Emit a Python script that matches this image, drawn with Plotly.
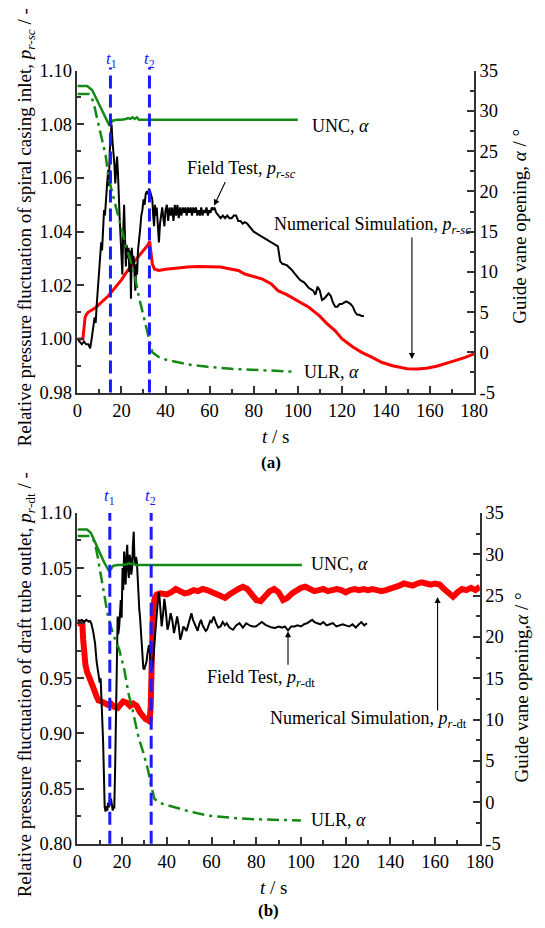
import plotly.graph_objects as go

W, H = 545, 928
FONT = "Liberation Serif, Times New Roman, Times, serif"

# ---------------- Panel (a): spiral casing inlet ----------------
a_field_t = [0, 1, 2, 3, 4, 5, 5.8, 6.3, 6.8, 7.3, 7.8, 8.3, 8.8, 9.3, 9.8, 10.3, 10.8, 11.2, 11.6, 12.1,
             12.5, 13, 13.5, 14, 14.3, 14.7, 15.1, 15.5, 15.9, 16.3, 16.8, 17.2, 17.6, 18, 18.4, 18.8, 19.2,
             19.6, 20, 20.4, 20.8, 21.2, 21.6, 22, 22.4, 22.8, 23.2, 23.6, 24.0, 24.3, 24.7, 25.1, 25.5, 25.9,
             26.3, 26.7, 27.1, 27.5, 28, 28.5, 29, 29.5, 30, 30.5, 31, 31.5, 32, 32.5, 33, 33.5, 34, 34.4,
             34.8, 35.2, 35.6, 36, 36.5, 37, 37.5, 38, 38.5, 39, 39.5, 40, 40.6, 41.2, 41.8, 42.4, 43, 43.6,
             44.2, 44.8, 45.4, 46, 46.6, 47.2, 47.8, 48.4, 49, 49.6, 50.2, 50.8, 51.4, 52, 52.6, 53.2, 53.8,
             54.4, 55, 55.6, 56.2, 56.8, 57.4, 58, 58.6, 59.2, 59.8, 60.4, 61, 61.6, 62.2, 63, 64, 65, 66, 67,
             68, 69, 70, 71, 72, 73, 74, 75, 76, 77, 78, 80, 82, 84, 86, 88, 90, 91, 92, 93, 95, 97, 99, 101,
             103, 105, 107, 108, 109, 110, 111, 112, 113, 114, 115, 116, 117, 118, 119, 120, 121, 122, 123,
             124, 125, 126, 127, 128, 129, 130]
a_field_p = [1.000, 0.999, 0.998, 0.999, 0.998, 0.998, 0.9965, 0.999, 1.003, 1.005, 1.008, 1.006, 1.013,
             1.018, 1.025, 1.030, 1.036, 1.033, 1.042, 1.048, 1.046, 1.054, 1.058, 1.063, 1.057, 1.070, 1.076,
             1.080, 1.074, 1.071, 1.065, 1.058, 1.066, 1.068, 1.062, 1.050, 1.045, 1.038, 1.030, 1.024, 1.040,
             1.050, 1.038, 1.027, 1.035, 1.030, 1.034, 1.025, 1.033, 1.015, 1.034, 1.028, 1.031, 1.022, 1.018,
             1.028, 1.024, 1.033, 1.036, 1.041, 1.046, 1.048, 1.052, 1.050, 1.054, 1.055, 1.054, 1.056, 1.055,
             1.053, 1.052, 1.046, 1.042, 1.050, 1.046, 1.049, 1.040, 1.036, 1.043, 1.047, 1.049, 1.045, 1.042,
             1.048, 1.050, 1.044, 1.049, 1.046, 1.049, 1.044, 1.050, 1.046, 1.050, 1.045, 1.049, 1.046, 1.049,
             1.047, 1.049, 1.046, 1.049, 1.047, 1.049, 1.046, 1.049, 1.047, 1.049, 1.046, 1.048, 1.046, 1.049,
             1.046, 1.048, 1.047, 1.049, 1.046, 1.048, 1.047, 1.049, 1.048, 1.049, 1.047, 1.046, 1.045, 1.046,
             1.045, 1.046, 1.045, 1.045, 1.046, 1.046, 1.044, 1.044, 1.043, 1.0435, 1.043, 1.042, 1.040, 1.039,
             1.038, 1.037, 1.036, 1.035, 1.0345, 1.029, 1.028, 1.0275, 1.026, 1.024, 1.022, 1.021, 1.019, 1.018,
             1.0165, 1.0195, 1.018, 1.0145, 1.015, 1.016, 1.017, 1.016, 1.0135, 1.012, 1.012, 1.013, 1.013,
             1.0135, 1.014, 1.0135, 1.013, 1.012, 1.010, 1.009, 1.009, 1.0085, 1.0085]

a_sim_t = [0, 2.5, 3, 3.5, 4, 5, 6, 8, 10, 12, 14, 16, 18, 20, 22, 24, 26, 28, 30, 32, 32.8, 33.3, 34, 35,
           37, 40, 45, 50, 55, 60, 65, 70, 73, 76, 80, 84, 88, 91, 95, 100, 105, 110, 113, 117, 120, 125,
           129, 134, 138, 143, 149.6, 154, 158.4, 163, 167, 171, 176, 180]
a_sim_p = [1.0, 1.0, 1.004, 1.008, 1.009, 1.010, 1.0105, 1.0115, 1.013, 1.0145, 1.016, 1.018, 1.020, 1.022,
           1.0245, 1.027, 1.029, 1.031, 1.033, 1.035, 1.0363, 1.032, 1.028, 1.026, 1.0255, 1.026, 1.0265,
           1.0268, 1.027, 1.027, 1.0268, 1.026, 1.0255, 1.0242, 1.0232, 1.0223, 1.0205, 1.018, 1.0165,
           1.0140, 1.0118, 1.0085, 1.0059, 1.003, 1.0001, 0.997, 0.995, 0.993, 0.9913, 0.990, 0.9889,
           0.9888, 0.9891, 0.9898, 0.9907, 0.9918, 0.9931, 0.9944]

a_unc_t = [0, 4.4, 6.7, 8.5, 10.5, 12.5, 14.3, 15, 16, 18, 20, 22, 23, 24, 25, 26, 27, 28, 100]
a_unc_a = [33.1, 33.1, 32.6, 31.6, 30.4, 29.2, 28.3, 28.4, 28.8, 28.9, 28.9, 29.0, 29.1, 29.0, 29.2, 29.0,
           29.2, 28.9, 28.9]

a_ulr_t = [0, 5.2, 6.5, 7.4, 9, 11, 12.8, 14.3, 16, 18, 20, 22, 24, 26, 28, 30, 32, 33, 34, 37, 40, 50,
           59, 70, 80, 90, 98.5]
a_ulr_a = [32.1, 32.1, 31.6, 31.0, 29.0, 26.5, 24.5, 21.5, 19.5, 17.5, 15.5, 13.3, 11.5, 9.5, 6.8, 4.5,
           2.2, 0.8, 0.0, -0.6, -0.9, -1.5, -1.8, -2.05, -2.2, -2.3, -2.4]

a_events = [15, 32.7]

# ---------------- Panel (b): draft tube outlet ----------------
b_field_t = [0, 1, 2, 3, 4, 5, 5.6, 6.2, 7, 7.9, 8.6, 9.4, 10, 10.4, 10.8, 11.2, 11.5, 11.9, 12.2, 12.6,
             13, 13.4, 13.7, 14.1, 14.5, 15.1, 15.5, 15.8, 16.2, 16.5, 16.9, 17.3, 17.6, 18, 18.3, 18.7,
             19.1, 19.4, 19.8, 20.2, 20.5, 20.9, 21.2, 21.6, 21.9, 22.3, 22.6, 23, 23.3, 23.7, 24.1, 24.5,
             24.8, 25.2, 25.5, 25.9, 26.2, 26.6, 27, 27.3, 27.7, 28, 28.4, 28.8, 29.1, 29.5, 29.9, 30.2,
             30.6, 30.9, 31.3, 31.6, 32, 32.3, 32.6, 33, 33.4, 33.8, 34.1, 34.6, 35, 35.3, 35.6, 36, 36.3,
             36.7, 37.2, 37.7, 38.3, 38.9, 39.5, 40.3, 41, 41.7, 42.5, 43.2, 43.9, 44.6, 45.3, 46, 46.7,
             47.4, 48.1, 48.8, 49.5, 50.2, 51, 51.7, 52.4, 53.1, 53.8, 54.5, 55.3, 56, 56.7, 57.4, 58, 58.7,
             59.4, 60, 61, 62, 63, 64, 65, 66, 66.8, 68, 69.6, 71, 72.5, 74, 75.5, 77, 78.5, 79.8, 81, 82.5,
             84.1, 85.5, 87, 88.5, 90, 91.5, 92.8, 94.2, 95.6, 97.1, 98.5, 100, 101.4, 102.8, 104, 105, 106,
             107, 108.6, 110, 111.5, 112.9, 114.3, 115.8, 117.3, 118.7, 120, 121.6, 123, 124.5, 125.9, 127,
             128.3, 129.5]
b_field_p = [1.003, 1.002, 1.003, 1.001, 1.003, 1.0015, 1.002, 1.000, 0.993, 0.982, 0.965, 0.953, 0.946,
             0.950, 0.932, 0.910, 0.893, 0.860, 0.833, 0.829, 0.834, 0.830, 0.837, 0.833, 0.840, 0.840, 0.836,
             0.830, 0.834, 0.832, 0.870, 0.935, 0.975, 1.006, 0.990, 0.997, 1.010, 1.021, 1.005, 1.050, 1.030,
             1.065, 1.045, 1.035, 1.060, 1.071, 1.050, 1.041, 1.062, 1.059, 1.044, 1.050, 1.070, 1.083, 1.060,
             1.053, 1.060, 1.056, 1.040, 1.021, 1.012, 1.006, 0.995, 0.982, 0.970, 0.959, 0.958, 0.960, 0.963,
             0.965, 0.972, 0.977, 0.980, 0.976, 0.968, 0.958, 0.959, 0.965, 0.971, 0.985, 0.995, 1.005, 1.018,
             1.027, 1.028, 1.024, 1.010, 0.997, 1.008, 1.022, 1.012, 0.994, 1.000, 1.009, 1.002, 0.991, 0.998,
             1.006, 0.998, 0.985, 0.990, 0.997, 0.995, 0.993, 0.998, 1.004, 1.009, 1.003, 0.999, 0.996, 0.993,
             0.999, 1.003, 0.998, 0.996, 0.993, 0.994, 0.999, 1.002, 1.001, 1.006, 1.000, 0.996, 0.997, 1.001,
             0.998, 1.000, 0.996, 0.994, 0.998, 1.000, 0.996, 0.9999, 0.998, 0.997, 0.997, 0.999, 1.001,
             0.9985, 0.997, 0.996, 0.9956, 0.997, 0.996, 0.997, 0.9935, 0.997, 0.997, 0.998, 0.997, 0.999,
             1.000, 1.002, 1.003, 1.001, 1.000, 0.999, 1.001, 0.998, 0.999, 1.000, 0.997, 0.998, 0.999, 0.998,
             0.997, 0.999, 0.996, 0.999, 1.001, 0.998, 1.000]

b_sim_t = [0, 2.2, 2.6, 2.9, 3.3, 3.6, 4.3, 5, 6, 7.2, 8.5, 9.4, 10.8, 12, 13.5, 15, 16.5, 18, 19, 20.5, 22,
           23.5, 25, 26.5, 28, 29.5, 30.5, 31.5, 32.3, 32.8, 33.3, 33.8, 34.5, 35.5, 37, 40, 42, 44, 46, 48,
           50, 52, 54, 56, 58, 60, 62, 64, 66, 68, 70, 72, 74, 76, 78, 80, 82, 84, 86, 88, 90, 92, 94, 96,
           98, 100, 102, 104, 106, 108, 110, 112, 114, 116, 118, 120, 122, 124, 126, 128, 130, 132, 134,
           136, 138, 140, 142, 144, 146, 148, 150, 152, 154, 156, 158, 160, 162, 164, 166, 168, 170, 172,
           174, 176, 178, 180]
b_sim_p = [1.0, 1.0, 0.985, 0.976, 0.967, 0.962, 0.956, 0.953, 0.947, 0.941, 0.934, 0.930, 0.929, 0.928,
           0.926, 0.927, 0.924, 0.923, 0.926, 0.929, 0.928, 0.925, 0.927, 0.925, 0.919, 0.915, 0.913, 0.912,
           0.911, 0.925, 0.975, 1.012, 1.022, 1.026, 1.027, 1.026, 1.028, 1.031, 1.029, 1.027, 1.028, 1.030,
           1.029, 1.031, 1.030, 1.028, 1.026, 1.024, 1.023, 1.026, 1.029, 1.031, 1.033, 1.031, 1.026, 1.021,
           1.020, 1.024, 1.029, 1.031, 1.028, 1.021, 1.023, 1.027, 1.030, 1.032, 1.033, 1.031, 1.029, 1.030,
           1.031, 1.029, 1.030, 1.031, 1.030, 1.028, 1.030, 1.031, 1.030, 1.031, 1.030, 1.031, 1.030, 1.029,
           1.030, 1.031, 1.032, 1.034, 1.036, 1.035, 1.034, 1.036, 1.037, 1.036, 1.035, 1.036, 1.035, 1.031,
           1.027, 1.024, 1.028, 1.031, 1.030, 1.032, 1.030, 1.033]

b_unc_t = [0, 4.3, 6, 8, 10, 12, 14.1, 15, 16, 18, 20, 22, 23, 24, 25, 26, 28, 100.4]
b_unc_a = [33.0, 33.0, 32.6, 31.5, 30.2, 29.0, 28.0, 28.2, 28.6, 28.7, 28.7, 28.8, 28.9, 28.8, 28.9, 28.7,
           28.7, 28.7]

b_ulr_t = [0, 5.5, 7, 7.9, 9, 10, 12, 13.7, 16, 18.7, 21, 23, 24.5, 27.3, 29.5, 31.6, 33, 34.5, 37, 41, 50,
           58.3, 70, 80, 90, 100]
b_ulr_a = [32.2, 32.2, 31.8, 31.3, 29.8, 28.3, 25.0, 22.5, 20.3, 18.5, 16.0, 13.0, 11.4, 7.9, 6.0, 3.9,
           2.0, 0.4, -0.1, -0.4, -1.1, -1.6, -1.9, -2.05, -2.15, -2.2]

b_events = [14.5, 33]

x_ticks = [0, 20, 40, 60, 80, 100, 120, 140, 160, 180]
a_left_ticks = [0.98, 1.00, 1.02, 1.04, 1.06, 1.08, 1.10]
b_left_ticks = [0.80, 0.85, 0.90, 0.95, 1.00, 1.05, 1.10]
right_ticks = [-5, 0, 5, 10, 15, 20, 25, 30, 35]

GREEN = "#148a14"
RED = "#ff0000"
BLUE = "#1a1aff"
AX = "#333333"


def px(x):
    return x / W


def py(y):
    return 1 - y / H


fig = go.Figure()

fig.add_trace(go.Scatter(x=a_unc_t, y=a_unc_a, xaxis="x", yaxis="y2", mode="lines",
                         line=dict(color=GREEN, width=2.5)))
fig.add_trace(go.Scatter(x=a_ulr_t, y=a_ulr_a, xaxis="x", yaxis="y2", mode="lines",
                         line=dict(color=GREEN, width=2.5, dash="12px,5px,3px,5px")))
fig.add_trace(go.Scatter(x=a_sim_t, y=a_sim_p, xaxis="x", yaxis="y", mode="lines",
                         line=dict(color=RED, width=3)))
fig.add_trace(go.Scatter(x=a_field_t, y=a_field_p, xaxis="x", yaxis="y", mode="lines",
                         line=dict(color="black", width=2)))

fig.add_trace(go.Scatter(x=b_unc_t, y=b_unc_a, xaxis="x2", yaxis="y4", mode="lines",
                         line=dict(color=GREEN, width=2.5)))
fig.add_trace(go.Scatter(x=b_ulr_t, y=b_ulr_a, xaxis="x2", yaxis="y4", mode="lines",
                         line=dict(color=GREEN, width=2.5, dash="12px,5px,3px,5px")))
fig.add_trace(go.Scatter(x=b_sim_t, y=b_sim_p, xaxis="x2", yaxis="y3", mode="lines",
                         line=dict(color=RED, width=6)))
fig.add_trace(go.Scatter(x=b_field_t, y=b_field_p, xaxis="x2", yaxis="y3", mode="lines",
                         line=dict(color="black", width=2)))

shapes = []
for t in a_events:
    shapes.append(dict(type="line", xref="x", yref="y domain", x0=t, x1=t, y0=0, y1=1.01,
                       line=dict(color=BLUE, width=3, dash="13px,6px")))
for t in b_events:
    shapes.append(dict(type="line", xref="x2", yref="y3 domain", x0=t, x1=t, y0=0, y1=1.0,
                       line=dict(color=BLUE, width=3, dash="13px,6px")))

tick_font = dict(family=FONT, size=18.5, color="black")


def xaxis(domain, anchor):
    return dict(domain=domain, anchor=anchor, range=[0, 180], tickvals=x_ticks,
                ticks="inside", ticklen=7, tickwidth=1.5, tickcolor=AX,
                minor=dict(ticks="inside", ticklen=4, dtick=10, tick0=0, tickcolor=AX, tickwidth=1.5),
                showline=True, linecolor=AX, linewidth=1.6, showgrid=False, zeroline=False,
                tickfont=tick_font)


def yleft(domain, anchor, rng, vals, minor_dt):
    return dict(domain=domain, anchor=anchor, range=rng, tickvals=vals,
                ticktext=["%.2f" % v for v in vals],
                ticks="inside", ticklen=7, tickwidth=1.5, tickcolor=AX,
                minor=dict(ticks="inside", ticklen=4, dtick=minor_dt, tick0=rng[0], tickcolor=AX, tickwidth=1.5),
                showline=True, linecolor=AX, linewidth=1.6, showgrid=False, zeroline=False,
                tickfont=tick_font)


def yright(overlay, anchor):
    return dict(overlaying=overlay, anchor=anchor, side="right", range=[-5, 35], tickvals=right_ticks,
                ticktext=[str(v) for v in right_ticks],
                ticks="inside", ticklen=7, tickwidth=1.5, tickcolor=AX,
                minor=dict(ticks="inside", ticklen=4, dtick=2.5, tick0=-5, tickcolor=AX, tickwidth=1.5),
                showline=True, linecolor=AX, linewidth=1.6, showgrid=False, zeroline=False,
                tickfont=tick_font)


a_y_dom = [py(391), py(62)]
b_y_dom = [py(852), py(514)]

annotations = []


def txt(text, x, y, xanchor="left", size=18, angle=0, color="black"):
    annotations.append(dict(text=text, x=px(x), y=py(y), xref="paper", yref="paper",
                            xanchor=xanchor, yanchor="middle", showarrow=False, textangle=angle,
                            font=dict(family=FONT, size=size, color=color)))


def arrow(xref, yref, x, y, ax, ay):
    annotations.append(dict(text="", x=x, y=y, xref=xref, yref=yref, ax=ax, ay=ay,
                            showarrow=True, arrowhead=2, arrowsize=1.1, arrowwidth=1.1,
                            arrowcolor="black"))


txt("UNC, <i>α</i>", 316, 119)
txt("Field Test, <i>p<sub>r-sc</sub></i>", 187, 163)
txt("Numerical Simulation, <i>p<sub>r-sc</sub></i>", 277, 220)
txt("ULR, <i>α</i>", 308, 370)
txt("<i>t</i><sub>1</sub>", 110, 51, xanchor="center", size=17, color=BLUE)
txt("<i>t</i><sub>2</sub>", 150, 51, xanchor="center", size=17, color=BLUE)
txt("<i>t</i> / s", 280, 436, xanchor="center", size=19)
txt("<b>(a)</b>", 276, 462, xanchor="center", size=17)
txt("Relative pressure fluctuation of spiral casing inlet, <i>p<sub>r-sc</sub></i> / -", 22, 222,
    xanchor="center", size=19, angle=-90)
txt("Guide vane opening, <i>α</i> / °", 533, 221, xanchor="center", size=19, angle=-90)
arrow("x", "y", 62, 1.0497, 12, -25)
arrow("x", "y", 151.8, 0.9925, 0, -123)

txt("UNC, <i>α</i>", 315, 566)
txt("Field Test, <i>p<sub>r</sub></i><sub>-dt</sub>", 207, 683)
txt("Numerical Simulation, <i>p<sub>r</sub></i><sub>-dt</sub>", 272, 725)
txt("ULR, <i>α</i>", 315, 828)
txt("<i>t</i><sub>1</sub>", 108, 498, xanchor="center", size=17, color=BLUE)
txt("<i>t</i><sub>2</sub>", 151, 498, xanchor="center", size=17, color=BLUE)
txt("<i>t</i> / s", 278, 897, xanchor="center", size=19)
txt("<b>(b)</b>", 273, 920, xanchor="center", size=17)
txt("Relative pressure fluctuation of draft tube outlet, <i>p<sub>r</sub></i><sub>-dt</sub> / -", 22, 690,
    xanchor="center", size=19, angle=-90)
txt("Guide vane opening,<i>α</i> / °", 535, 692, xanchor="center", size=19, angle=-90)
arrow("x2", "y3", 94.2, 0.9926, 0, 35)
arrow("x2", "y3", 161.1, 1.0237, 0, 115)

fig.update_layout(
    width=W, height=H,
    margin=dict(l=0, r=0, t=0, b=0),
    paper_bgcolor="white", plot_bgcolor="white",
    showlegend=False,
    font=dict(family=FONT, size=18, color="black"),
    xaxis=xaxis([px(75), px(486)], "y"),
    yaxis=yleft(a_y_dom, "x", [0.98, 1.10], a_left_ticks, 0.01),
    yaxis2=yright("y", "x"),
    xaxis2=xaxis([px(75), px(492)], "y3"),
    yaxis3=yleft(b_y_dom, "x2", [0.80, 1.10], b_left_ticks, 0.025),
    yaxis4=yright("y3", "x2"),
    shapes=shapes,
    annotations=annotations,
)

fig.write_html("out.html")
